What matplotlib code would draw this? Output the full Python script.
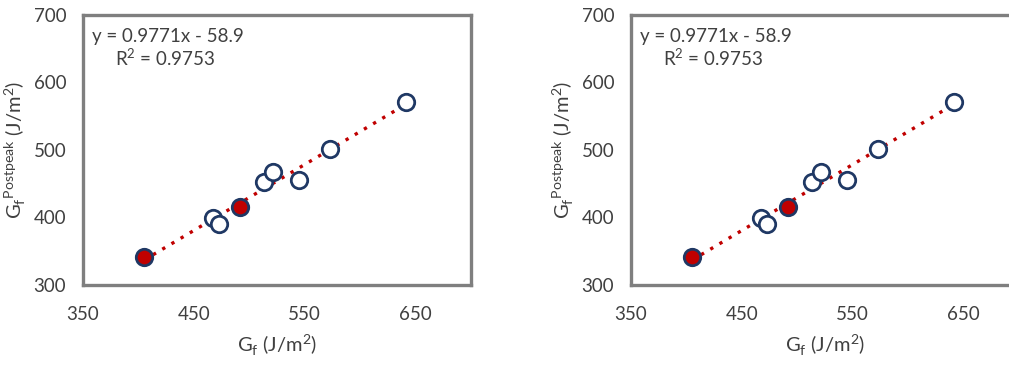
import numpy as np
from matplotlib import pyplot as plt

plt.rcParams['font.family'] = ['Lato', 'DejaVu Sans']
plt.rcParams['mathtext.fontset'] = 'custom'
plt.rcParams['mathtext.rm'] = 'Lato'

# data
gf_open = [467, 473, 513, 521, 545, 573, 641]
gpp_open = [399, 391, 452, 467, 455, 502, 571]
gf_fill = [405, 492]
gpp_fill = [341, 416]
slope, intercept = 0.9771, -58.9
r2 = 0.9753

xticks = [350, 450, 550, 650]
yticks = [300, 400, 500, 600, 700]

txt = '#404040'
edge = '#1f3864'

fig = plt.figure(figsize=(10.09, 3.68), dpi=100)
lefts = [83 / 1009, 631 / 1009]

for l in lefts:
    ax = fig.add_axes([l, 83 / 368, 388 / 1009, 270 / 368])
    xs = np.array([min(gf_fill + gf_open), max(gf_fill + gf_open)])
    ax.plot(xs, slope * xs + intercept, color='#c00000', ls=(0, (1, 2.2)), lw=2.4, zorder=2)
    ax.scatter(gf_open, gpp_open, s=140, facecolors='white', edgecolors=edge, linewidths=2.0, zorder=3)
    ax.scatter(gf_fill, gpp_fill, s=140, facecolors='#c00000', edgecolors=edge, linewidths=2.0, zorder=3)
    ax.set_xlim(350, 700)
    ax.set_ylim(300, 700)
    ax.set_xticks(xticks)
    ax.set_yticks(yticks)
    ax.tick_params(length=0, labelsize=13.5, labelcolor=txt)
    ax.tick_params(axis='x', pad=15)
    ax.tick_params(axis='y', pad=12)
    for s in ax.spines.values():
        s.set_color('#7f7f7f')
        s.set_linewidth(2.4)
    ax.text(0.023, 0.9, 'y = 0.9771x - 58.9', transform=ax.transAxes, fontsize=13.5, color=txt)
    ax.text(0.083, 0.81, 'R$^2$ = %.4f' % r2, transform=ax.transAxes, fontsize=13.5, color=txt)
    ax.set_xlabel('G$_\\mathrm{f}$ (J/m$^2$)', fontsize=14.5, color=txt, labelpad=7)
    ax.set_ylabel('G$_\\mathrm{f}$$^\\mathrm{Postpeak}$ (J/m$^2$)', fontsize=14.5, color=txt, labelpad=4)

fig.savefig('out.png', dpi=100)
